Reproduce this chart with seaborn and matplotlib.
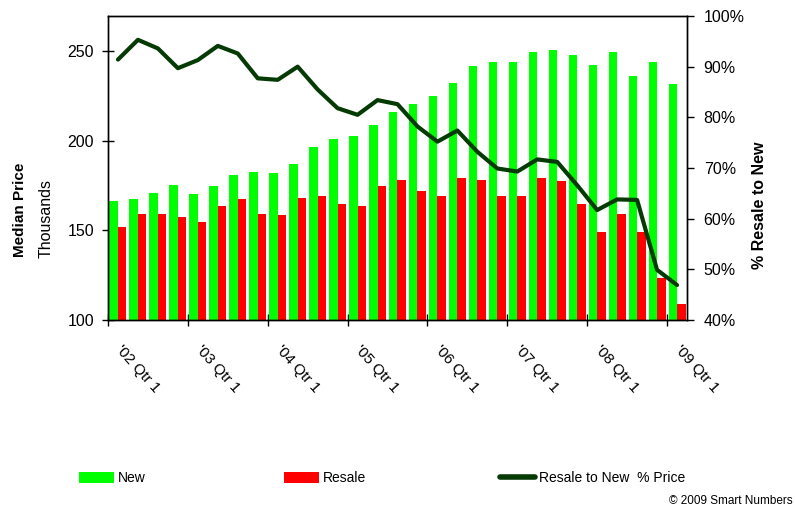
import numpy as np
import pandas as pd
import matplotlib
matplotlib.use("Agg")
import matplotlib.pyplot as plt
import seaborn as sns
from matplotlib.patches import Patch
from matplotlib.lines import Line2D
from matplotlib.ticker import FuncFormatter

# quarterly medians, thousands of dollars ('02 Q1 .. '09 Q1)
quarters = [f"'{y:02d} Qtr {q}" for y in range(2, 10) for q in range(1, 5)][:29]
new_price = [166.4, 167.5, 170.8, 175.3, 170.3, 174.7, 180.9, 182.5, 182.0, 187.0,
             196.5, 200.9, 202.6, 208.8, 216.0, 220.5, 224.9, 232.2, 241.7, 243.9,
             243.9, 249.5, 250.6, 247.8, 242.2, 249.5, 236.1, 243.9, 231.6]
resale_price = [151.9, 159.1, 159.1, 157.4, 154.7, 163.6, 167.5, 159.1, 158.6, 168.0,
                169.2, 164.7, 163.6, 174.7, 178.1, 171.9, 169.2, 179.2, 178.1, 169.2,
                169.2, 179.2, 177.5, 164.7, 149.1, 159.1, 149.1, 123.4, 108.9]
# resale as % of new
ratio_pct = [91.4, 95.3, 93.6, 89.7, 91.3, 94.1, 92.6, 87.7, 87.4, 90.0,
             85.5, 81.8, 80.5, 83.4, 82.6, 78.2, 75.2, 77.4, 73.2, 69.9,
             69.3, 71.7, 71.2, 66.6, 61.7, 63.8, 63.7, 49.9, 46.9]
tick_labels = ["'02 Qtr 1", "'03 Qtr 1", "'04 Qtr 1", "'05 Qtr 1",
               "'06 Qtr 1", "'07 Qtr 1", "'08 Qtr 1", "'09 Qtr 1"]

GREEN = "#00ff00"
RED = "#ff0000"
DARK = "#053a05"

sns.set_style("white")
plt.rcParams["font.family"] = ["Liberation Sans", "DejaVu Sans"]
plt.rcParams.update({"text.color": "black", "axes.labelcolor": "black",
                     "xtick.color": "black", "ytick.color": "black"})

df = pd.DataFrame({
    "quarter": quarters * 2,
    "price": new_price + resale_price,
    "series": ["New"] * len(quarters) + ["Resale"] * len(quarters),
})

fig = plt.figure(figsize=(7.95, 5.08), dpi=100)
ax = fig.add_axes([108 / 795, 1 - 320 / 508, 579 / 795, 304 / 508])

sns.barplot(data=df, x="quarter", y="price", hue="series", order=quarters,
            palette={"New": GREEN, "Resale": RED}, saturation=1, width=0.85,
            linewidth=0, legend=False, ax=ax)
ax.set_xlim(-0.5, len(quarters) - 0.5)
ax.set_ylim(100, 269.5)
ax.set_yticks([100, 150, 200, 250])
ax.set_xlabel("")
ax.set_ylabel("")
ax.tick_params(axis="y", left=True, direction="inout", length=8, width=1, pad=6,
               labelsize=11.5)

# labels on every 4th quarter, tick marks on the year boundaries
ax.set_xticks(range(0, len(quarters), 4))
ax.set_xticklabels(tick_labels, rotation=-48, ha="left", va="center",
                   rotation_mode="anchor", fontsize=11)
ax.set_xticks(np.arange(-0.5, len(quarters) - 1, 4), minor=True)
ax.tick_params(axis="x", which="major", bottom=True, length=0, pad=20)
ax.tick_params(axis="x", which="minor", bottom=True, direction="inout", length=8, width=1)

ax2 = ax.twinx()
sns.lineplot(x=np.arange(len(quarters)), y=ratio_pct, ax=ax2, color=DARK,
             linewidth=3, solid_joinstyle="round", solid_capstyle="round")
ax2.set_ylim(40, 100)
ax2.set_yticks(range(40, 101, 10))
ax2.yaxis.set_major_formatter(FuncFormatter(lambda v, p: f"{v:.0f}%"))
ax2.tick_params(axis="y", right=True, direction="out", length=5, width=1, pad=7,
                labelsize=11.5)
ax2.set_ylabel("")

for a in (ax, ax2):
    for s in a.spines.values():
        s.set_visible(True)
        s.set_color("black")
        s.set_linewidth(1)

fig.text(20 / 795, 1 - 210 / 508, "Median Price", rotation=90, ha="center",
         va="center", fontsize=11, fontweight="bold")
fig.text(46 / 795, 1 - 219 / 508, "Thousands", rotation=90, ha="center",
         va="center", fontsize=11.5)
fig.text(760 / 795, 1 - 205 / 508, "% Resale to New", rotation=90, ha="center",
         va="center", fontsize=11.5, fontweight="bold")

legend_items = [
    (Patch(facecolor=GREEN, edgecolor="none"), "New", 79),
    (Patch(facecolor=RED, edgecolor="none"), "Resale", 284),
    (Line2D([], [], color=DARK, linewidth=4, solid_capstyle="round"),
     "Resale to New  % Price", 500),
]
for handle, label, xpix in legend_items:
    fig.legend([handle], [label], loc="center left",
               bbox_to_anchor=(xpix / 795, 1 - 478 / 508), frameon=False,
               borderpad=0, borderaxespad=0, handlelength=2.5, handleheight=0.85,
               handletextpad=0.3, prop={"size": 10})

fig.text(793 / 795, 1 - 501 / 508, "\u00a9 2009 Smart Numbers", ha="right",
         va="center", fontsize=8.5)

fig.savefig("out.png", dpi=100)
